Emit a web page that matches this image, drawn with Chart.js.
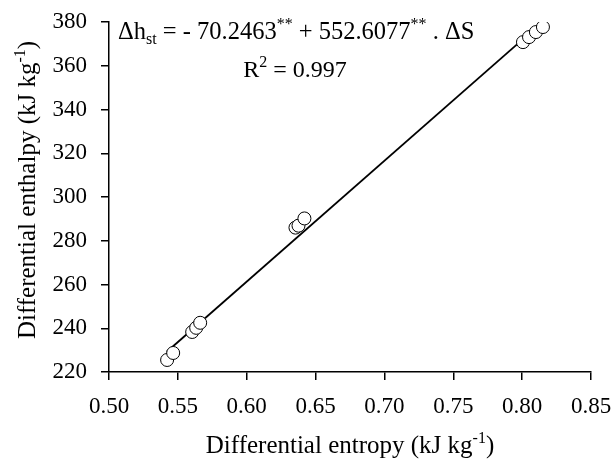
<!DOCTYPE html>
<html><head><meta charset="utf-8">
<script src="https://cdn.jsdelivr.net/npm/chart.js@4/dist/chart.umd.min.js"></script>
<style>html,body{margin:0;padding:0;background:#fff}#wrap{width:614px;height:461px}</style>
</head><body><div id="wrap"><canvas id="c" width="614" height="461"></canvas></div>
<script>
const entropy = [0.5422, 0.5466, 0.5604, 0.5633, 0.5662, 0.6354, 0.6376, 0.6419, 0.8006, 0.8050, 0.8100, 0.8151];
const enthalpy = [225.5, 228.7, 238.3, 240.2, 242.5, 286.0, 286.9, 290.2, 370.8, 373.1, 375.4, 377.7];
const fitIntercept = -70.2463;
const fitSlope = 552.6077;
const fitRange = [0.542, 0.800];
const xTicks = [0.50, 0.55, 0.60, 0.65, 0.70, 0.75, 0.80, 0.85];
const yTicks = [220, 240, 260, 280, 300, 320, 340, 360, 380];

const FONT = '"Liberation Serif", "Times New Roman", serif';
const fitLine = fitRange.map(x => ({x: x, y: fitIntercept + fitSlope * x}));
const pts = entropy.map((x, i) => ({x: x, y: enthalpy[i]}));

function drawRich(ctx, x, y, parts, size, align) {
  const widths = parts.map(p => {
    ctx.font = (p[1] === 'n' ? size : Math.round(size * 0.65)) + 'px ' + FONT;
    return ctx.measureText(p[0]).width;
  });
  const total = widths.reduce((a, b) => a + b, 0);
  let cx = align === 'center' ? x - total / 2 : x;
  parts.forEach((p, i) => {
    ctx.font = (p[1] === 'n' ? size : Math.round(size * 0.65)) + 'px ' + FONT;
    let dy = 0;
    if (p[1] === 'sub') dy = size * 0.22;
    if (p[1] === 'sup') dy = -size * 0.42;
    ctx.fillText(p[0], cx, y + dy);
    cx += widths[i];
  });
}

const textPlugin = {
  id: 'texts',
  afterDraw(chart) {
    const ctx = chart.ctx;
    ctx.save();
    ctx.fillStyle = '#000';
    ctx.textBaseline = 'alphabetic';
    ctx.textAlign = 'left';
    drawRich(ctx, 118, 39, [['\u0394h', 'n'], ['st', 'sub'], [' = - 70.2463', 'n'], ['**', 'sup'], [' + 552.6077', 'n'], ['**', 'sup'], [' . \u0394S', 'n']], 24.5, 'left');
    drawRich(ctx, 295, 77, [['R', 'n'], ['2', 'sup'], [' = 0.997', 'n']], 24, 'center');
    drawRich(ctx, 350, 453, [['Differential entropy (kJ kg', 'n'], ['-1', 'sup'], [')', 'n']], 25, 'center');
    ctx.translate(35, 190);
    ctx.rotate(-Math.PI / 2);
    drawRich(ctx, 0, 0, [['Differential enthalpy (kJ kg', 'n'], ['-1', 'sup'], [')', 'n']], 25, 'center');
    ctx.restore();
  }
};

new Chart(document.getElementById('c'), {
  type: 'scatter',
  data: {
    datasets: [
      {data: pts, pointRadius: 6.5, pointHoverRadius: 6.5, pointBackgroundColor: '#fff', pointBorderColor: '#000', pointBorderWidth: 1, showLine: false, order: 0},
      {data: fitLine, type: 'line', showLine: true, borderColor: '#000', borderWidth: 1.8, pointRadius: 0, fill: false, order: 1}
    ]
  },
  options: {
    responsive: false,
    animation: false,
    events: [],
    layout: {padding: {left: 0, right: 23, top: 22, bottom: 0}},
    plugins: {legend: {display: false}, tooltip: {enabled: false}},
    scales: {
      x: {
        type: 'linear', min: 0.5, max: 0.85,
        afterBuildTicks: s => { s.ticks = xTicks.map(v => ({value: v})); },
        afterFit: s => { s.height = 89; s.paddingLeft = 0; s.paddingRight = 0; },
        border: {display: true, color: '#000', width: 1.5},
        grid: {display: true, drawOnChartArea: false, drawTicks: true, tickLength: 8, color: '#000', lineWidth: 1.5},
        ticks: {color: '#000', font: {family: FONT, size: 23}, padding: 13, maxRotation: 0, callback: v => v.toFixed(2)}
      },
      y: {
        type: 'linear', min: 220, max: 380,
        afterBuildTicks: s => { s.ticks = yTicks.map(v => ({value: v})); },
        afterFit: s => { s.width = 109; s.paddingTop = 0; s.paddingBottom = 0; },
        border: {display: true, color: '#000', width: 1.5},
        grid: {display: true, drawOnChartArea: false, drawTicks: true, tickLength: 8, color: '#000', lineWidth: 1.5},
        ticks: {color: '#000', font: {family: FONT, size: 23}, padding: 14, callback: v => String(v)}
      }
    }
  },
  plugins: [textPlugin]
});
</script></body></html>
